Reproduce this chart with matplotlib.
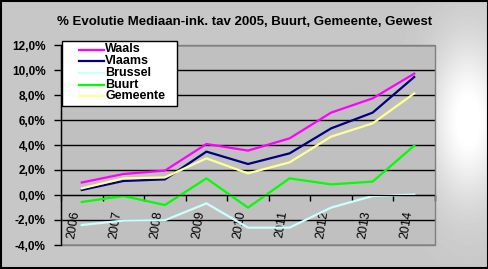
import matplotlib
matplotlib.use("Agg")
import matplotlib.pyplot as plt
import numpy as np
from matplotlib.patches import Rectangle
from matplotlib.lines import Line2D

## data
jaren = ["2006", "2007", "2008", "2009", "2010", "2011", "2012", "2013", "2014"]
waals = [1.0, 1.68, 1.95, 4.08, 3.55, 4.53, 6.59, 7.73, 9.71]
vlaams = [0.4, 1.12, 1.25, 3.47, 2.48, 3.33, 5.33, 6.59, 9.44]
brussel = [-2.4, -2.05, -2.02, -0.67, -2.61, -2.61, -1.01, -0.08, 0.03]
buurt = [-0.56, -0.08, -0.8, 1.33, -1.01, 1.33, 0.85, 1.07, 3.95]
gemeente = [0.53, 1.33, 1.41, 2.93, 1.73, 2.61, 4.67, 5.73, 8.13]
yticks = [-4, -2, 0, 2, 4, 6, 8, 10, 12]

plt.rcParams['font.family'] = ['Liberation Sans', 'DejaVu Sans']

W, H = 489, 269
fig = plt.figure(figsize=(W/100, H/100), dpi=100)

##background gradient (highlight on the right)
bg = fig.add_axes([0, 0, 1, 1], zorder=-10)
XX, YY = np.meshgrid(np.arange(W), np.arange(H))
g = 0.78 + 0.24*np.exp(-((XX-468)/38.0)**2 - ((YY-120)/80.0)**2)
bg.imshow(np.clip(g, 0, 1), cmap='gray', vmin=0, vmax=1, aspect='auto',
          extent=[0, W, H, 0])
bg.set_xlim(0, W); bg.set_ylim(H, 0)
bg.axis('off')
bg.add_patch(Rectangle((1, 1), W-2.5, H-2.5, fill=False, edgecolor='black', lw=1.5))

L, R, T, B = 61, 435, 45, 245
ax = fig.add_axes([L/W, 1-B/H, (R-L)/W, (B-T)/H])
ax.set_facecolor('#c0c0c0')
x = np.arange(len(jaren))
ax.set_xlim(-0.5, len(jaren)-0.5)
ax.set_ylim(-4, 12)

for v in yticks:
    ax.axhline(v, color='black', lw=1, zorder=1)

series = [("Waals", waals, '#ff00ff'), ("Vlaams", vlaams, '#000080'),
          ("Brussel", brussel, '#ccffff'), ("Buurt", buurt, '#00ff00'),
          ("Gemeente", gemeente, '#ffff99')]
for name, vals, col in series:
    ax.plot(x, vals, color=col, lw=1.6, label=name, zorder=2)

for s in ['top', 'right', 'left']:
    ax.spines[s].set_visible(False)
ax.spines['bottom'].set_position(('data', 0))
ax.spines['bottom'].set_color('black')
ax.add_patch(Rectangle((0, 0), 1, 1, transform=ax.transAxes, fill=False,
                       edgecolor='#808080', lw=1, zorder=5, clip_on=False))
ax.plot([0, 0], [0, 1], transform=ax.transAxes, color='black', lw=1, zorder=6, clip_on=False)

ax.set_yticks(yticks)
ax.set_yticklabels([("%.1f%%" % v).replace('.', ',') for v in yticks], fontsize=8.5, fontweight='bold')
ax.tick_params(axis='y', direction='out', length=5, width=1, pad=6)

ax.set_xticks(np.arange(-0.5, len(jaren)), minor=False)
ax.set_xticklabels([])
ax.set_xticks(x, minor=True)
ax.set_xticklabels(jaren, minor=True, rotation=81, fontsize=9,
                   ha='right', va='top')
ax.tick_params(axis='x', which='major', direction='out', length=4, width=1)
ax.tick_params(axis='x', which='minor', length=0, pad=11)

##legend drawn by hand (box wider on the left like the original)
lx0, lx1, ly0, ly1 = 61.5, 176.5, 40.5, 106
leg_ax = fig.add_axes([0, 0, 1, 1], zorder=10)
leg_ax.set_xlim(0, W); leg_ax.set_ylim(H, 0)
leg_ax.axis('off')
leg_ax.add_patch(Rectangle((lx0, ly0), lx1-lx0, ly1-ly0, facecolor='white',
                           edgecolor='black', lw=1))
for i, (name, vals, col) in enumerate(series):
    yy = 49.5 + i*11.7
    leg_ax.add_line(Line2D([79, 104], [yy, yy], color=col, lw=1.6))
    leg_ax.text(105, yy, name, fontsize=9, fontweight='bold', va='center', ha='left')

fig.text(0.5, 1-22/H, "% Evolutie Mediaan-ink. tav 2005, Buurt, Gemeente, Gewest",
         ha='center', va='center', fontsize=9.5, fontweight='bold')

plt.savefig("out.png", dpi=100)
